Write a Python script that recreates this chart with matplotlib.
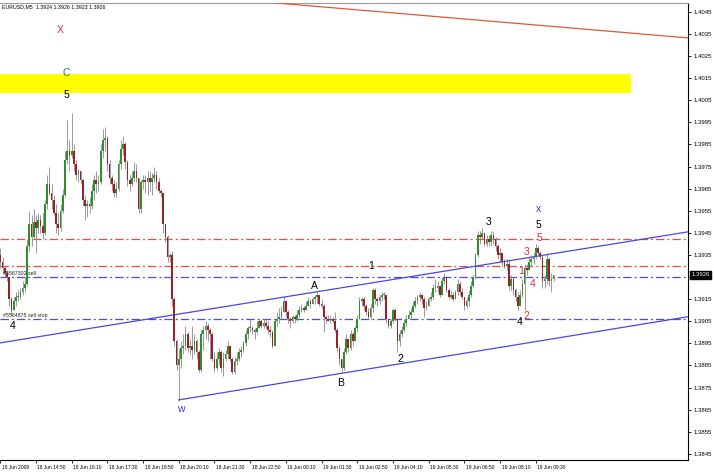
import matplotlib
matplotlib.use('Agg')
import matplotlib.pyplot as plt
from matplotlib.patches import Rectangle
import matplotlib.transforms as mtransforms
import numpy as np

plt.rcParams['font.family'] = ['DejaVu Sans']
plt.rcParams['lines.scale_dashes'] = False

# ---------------- data ----------------
title_text = "EURUSD,M5  1.3924 1.3926 1.3923 1.3926"
last_price = 1.3926

opens = [
    1.3935, 1.3932, 1.3929, 1.3927, 1.3925, 1.3915, 1.3910, 1.3914, 1.3916, 1.3916, 1.3918, 1.3920, 1.3922, 1.3939, 1.3949, 1.3943,
    1.3950, 1.3947, 1.3951, 1.3948, 1.3945, 1.3958, 1.3967, 1.3963, 1.3960, 1.3954, 1.3949, 1.3947, 1.3955, 1.3962, 1.3978, 1.3982,
    1.3980, 1.3982, 1.3976, 1.3971, 1.3973, 1.3969, 1.3960, 1.3957, 1.3958, 1.3957, 1.3964, 1.3969, 1.3967, 1.3968, 1.3982, 1.3987,
    1.3988, 1.3976, 1.3970, 1.3967, 1.3963, 1.3965, 1.3976, 1.3983, 1.3985, 1.3977, 1.3969, 1.3967, 1.3970, 1.3973, 1.3970, 1.3956,
    1.3968, 1.3969, 1.3968, 1.3970, 1.3968, 1.3970, 1.3971, 1.3968, 1.3964, 1.3963, 1.3949, 1.3943, 1.3934, 1.3935, 1.3915, 1.3896,
    1.3885, 1.3888, 1.3893, 1.3894, 1.3899, 1.3893, 1.3894, 1.3892, 1.3896, 1.3891, 1.3883, 1.3899, 1.3901, 1.3903, 1.3901, 1.3899,
    1.3888, 1.3884, 1.3888, 1.3891, 1.3884, 1.3888, 1.3890, 1.3894, 1.3888, 1.3882, 1.3887, 1.3888, 1.3891, 1.3892, 1.3895, 1.3899,
    1.3902, 1.3902, 1.3901, 1.3900, 1.3902, 1.3905, 1.3903, 1.3904, 1.3903, 1.3901, 1.3900, 1.3894, 1.3905, 1.3906, 1.3907, 1.3909,
    1.3914, 1.3909, 1.3906, 1.3905, 1.3907, 1.3906, 1.3908, 1.3910, 1.3911, 1.3910, 1.3912, 1.3914, 1.3913, 1.3915, 1.3916, 1.3917,
    1.3913, 1.3912, 1.3907, 1.3906, 1.3905, 1.3906, 1.3905, 1.3901, 1.3893, 1.3888, 1.3884, 1.3891, 1.3897, 1.3893, 1.3899, 1.3896,
    1.3902, 1.3906, 1.3914, 1.3915, 1.3912, 1.3909, 1.3907, 1.3911, 1.3919, 1.3915, 1.3914, 1.3916, 1.3917, 1.3917, 1.3906, 1.3903,
    1.3905, 1.3910, 1.3906, 1.3896, 1.3899, 1.3901, 1.3904, 1.3906, 1.3908, 1.3909, 1.3912, 1.3914, 1.3916, 1.3917, 1.3915, 1.3911,
    1.3912, 1.3915, 1.3916, 1.3920, 1.3920, 1.3921, 1.3917, 1.3923, 1.3925, 1.3919, 1.3916, 1.3917, 1.3915, 1.3918, 1.3922, 1.3918,
    1.3916, 1.3912, 1.3914, 1.3917, 1.3921, 1.3925, 1.3935, 1.3944, 1.3943, 1.3945, 1.3940, 1.3942, 1.3941, 1.3944, 1.3942, 1.3939,
    1.3935, 1.3936, 1.3932, 1.3930, 1.3931, 1.3921, 1.3924, 1.3919, 1.3916, 1.3912, 1.3917, 1.3922, 1.3929, 1.3928, 1.3932, 1.3933,
    1.3934, 1.3938, 1.3936, 1.3934, 1.3923, 1.3924, 1.3933, 1.3923, 1.3924,
]
highs = [
    1.3938, 1.3934, 1.3930, 1.3928, 1.3925, 1.3916, 1.3916, 1.3918, 1.3919, 1.3920, 1.3923, 1.3925, 1.3942, 1.3955, 1.3953, 1.3956,
    1.3953, 1.3954, 1.3953, 1.3954, 1.3960, 1.3971, 1.3975, 1.3967, 1.3962, 1.3958, 1.3954, 1.3958, 1.3965, 1.3982, 1.3996, 1.3987,
    1.3999, 1.3985, 1.3978, 1.3974, 1.3973, 1.3970, 1.3962, 1.3960, 1.3961, 1.3967, 1.3971, 1.3973, 1.3971, 1.3985, 1.3992, 1.3993,
    1.3989, 1.3978, 1.3971, 1.3969, 1.3968, 1.3978, 1.3987, 1.3989, 1.3986, 1.3978, 1.3971, 1.3973, 1.3977, 1.3976, 1.3970, 1.3969,
    1.3971, 1.3971, 1.3973, 1.3973, 1.3972, 1.3975, 1.3973, 1.3970, 1.3965, 1.3963, 1.3949, 1.3944, 1.3936, 1.3937, 1.3916, 1.3897,
    1.3893, 1.3896, 1.3899, 1.3903, 1.3900, 1.3897, 1.3903, 1.3899, 1.3897, 1.3892, 1.3901, 1.3903, 1.3905, 1.3904, 1.3902, 1.3900,
    1.3891, 1.3891, 1.3893, 1.3892, 1.3891, 1.3892, 1.3896, 1.3894, 1.3889, 1.3889, 1.3891, 1.3893, 1.3894, 1.3896, 1.3901, 1.3903,
    1.3906, 1.3903, 1.3902, 1.3905, 1.3906, 1.3906, 1.3906, 1.3906, 1.3905, 1.3903, 1.3901, 1.3906, 1.3909, 1.3911, 1.3912, 1.3916,
    1.3914, 1.3910, 1.3907, 1.3908, 1.3908, 1.3910, 1.3912, 1.3913, 1.3912, 1.3914, 1.3916, 1.3915, 1.3916, 1.3917, 1.3918, 1.3917,
    1.3915, 1.3913, 1.3908, 1.3908, 1.3908, 1.3907, 1.3909, 1.3902, 1.3894, 1.3888, 1.3893, 1.3899, 1.3897, 1.3901, 1.3900, 1.3903,
    1.3908, 1.3916, 1.3916, 1.3916, 1.3913, 1.3911, 1.3913, 1.3920, 1.3920, 1.3916, 1.3917, 1.3918, 1.3918, 1.3917, 1.3906, 1.3906,
    1.3911, 1.3911, 1.3906, 1.3901, 1.3903, 1.3906, 1.3908, 1.3910, 1.3911, 1.3914, 1.3916, 1.3917, 1.3918, 1.3917, 1.3916, 1.3914,
    1.3916, 1.3918, 1.3922, 1.3924, 1.3923, 1.3921, 1.3925, 1.3927, 1.3925, 1.3920, 1.3919, 1.3918, 1.3919, 1.3924, 1.3923, 1.3920,
    1.3916, 1.3916, 1.3919, 1.3923, 1.3926, 1.3936, 1.3946, 1.3946, 1.3947, 1.3945, 1.3944, 1.3944, 1.3946, 1.3946, 1.3943, 1.3940,
    1.3938, 1.3936, 1.3933, 1.3933, 1.3933, 1.3926, 1.3925, 1.3920, 1.3918, 1.3919, 1.3924, 1.3931, 1.3931, 1.3934, 1.3935, 1.3936,
    1.3940, 1.3939, 1.3937, 1.3935, 1.3926, 1.3936, 1.3934, 1.3927, 1.3926,
]
lows = [
    1.3929, 1.3927, 1.3925, 1.3923, 1.3912, 1.3908, 1.3910, 1.3912, 1.3914, 1.3915, 1.3917, 1.3918, 1.3921, 1.3937, 1.3939, 1.3942,
    1.3936, 1.3945, 1.3945, 1.3942, 1.3944, 1.3956, 1.3962, 1.3956, 1.3953, 1.3945, 1.3944, 1.3946, 1.3954, 1.3961, 1.3976, 1.3973,
    1.3979, 1.3973, 1.3969, 1.3968, 1.3967, 1.3957, 1.3951, 1.3952, 1.3954, 1.3956, 1.3960, 1.3963, 1.3964, 1.3967, 1.3979, 1.3982,
    1.3973, 1.3967, 1.3964, 1.3961, 1.3961, 1.3964, 1.3974, 1.3980, 1.3974, 1.3966, 1.3964, 1.3966, 1.3968, 1.3968, 1.3954, 1.3954,
    1.3965, 1.3963, 1.3962, 1.3964, 1.3962, 1.3968, 1.3965, 1.3963, 1.3961, 1.3945, 1.3941, 1.3932, 1.3932, 1.3912, 1.3894, 1.3883,
    1.3869, 1.3884, 1.3890, 1.3892, 1.3891, 1.3890, 1.3888, 1.3890, 1.3888, 1.3882, 1.3882, 1.3892, 1.3897, 1.3896, 1.3888, 1.3887,
    1.3882, 1.3883, 1.3885, 1.3882, 1.3880, 1.3887, 1.3888, 1.3887, 1.3881, 1.3881, 1.3885, 1.3887, 1.3889, 1.3891, 1.3894, 1.3897,
    1.3900, 1.3899, 1.3897, 1.3899, 1.3902, 1.3902, 1.3902, 1.3902, 1.3899, 1.3898, 1.3893, 1.3894, 1.3903, 1.3904, 1.3906, 1.3909,
    1.3907, 1.3904, 1.3902, 1.3904, 1.3904, 1.3905, 1.3907, 1.3909, 1.3909, 1.3910, 1.3912, 1.3911, 1.3913, 1.3913, 1.3913, 1.3912,
    1.3911, 1.3900, 1.3904, 1.3905, 1.3904, 1.3904, 1.3900, 1.3891, 1.3885, 1.3882, 1.3883, 1.3890, 1.3891, 1.3892, 1.3894, 1.3896,
    1.3900, 1.3906, 1.3912, 1.3910, 1.3908, 1.3906, 1.3906, 1.3909, 1.3913, 1.3912, 1.3913, 1.3914, 1.3915, 1.3904, 1.3902, 1.3902,
    1.3904, 1.3905, 1.3891, 1.3894, 1.3898, 1.3900, 1.3903, 1.3906, 1.3906, 1.3909, 1.3911, 1.3913, 1.3914, 1.3913, 1.3907, 1.3910,
    1.3912, 1.3914, 1.3915, 1.3918, 1.3918, 1.3916, 1.3917, 1.3922, 1.3918, 1.3915, 1.3915, 1.3914, 1.3915, 1.3917, 1.3917, 1.3915,
    1.3910, 1.3911, 1.3912, 1.3916, 1.3920, 1.3924, 1.3934, 1.3940, 1.3942, 1.3939, 1.3939, 1.3939, 1.3939, 1.3940, 1.3937, 1.3933,
    1.3932, 1.3930, 1.3929, 1.3928, 1.3919, 1.3919, 1.3917, 1.3914, 1.3910, 1.3912, 1.3916, 1.3910, 1.3926, 1.3928, 1.3930, 1.3931,
    1.3933, 1.3935, 1.3933, 1.3920, 1.3920, 1.3922, 1.3921, 1.3918, 1.3923,
]
closes = [
    1.3932, 1.3929, 1.3927, 1.3925, 1.3915, 1.3910, 1.3914, 1.3916, 1.3916, 1.3918, 1.3920, 1.3922, 1.3939, 1.3949, 1.3943, 1.3950,
    1.3947, 1.3951, 1.3948, 1.3945, 1.3958, 1.3967, 1.3963, 1.3960, 1.3954, 1.3949, 1.3947, 1.3955, 1.3962, 1.3978, 1.3982, 1.3980,
    1.3982, 1.3976, 1.3971, 1.3973, 1.3969, 1.3960, 1.3957, 1.3958, 1.3957, 1.3964, 1.3969, 1.3967, 1.3968, 1.3982, 1.3987, 1.3988,
    1.3976, 1.3970, 1.3967, 1.3963, 1.3965, 1.3976, 1.3983, 1.3985, 1.3977, 1.3969, 1.3967, 1.3970, 1.3973, 1.3970, 1.3956, 1.3968,
    1.3969, 1.3968, 1.3970, 1.3968, 1.3970, 1.3971, 1.3968, 1.3964, 1.3963, 1.3949, 1.3943, 1.3934, 1.3935, 1.3915, 1.3896, 1.3885,
    1.3888, 1.3893, 1.3894, 1.3899, 1.3893, 1.3894, 1.3892, 1.3896, 1.3891, 1.3883, 1.3899, 1.3901, 1.3903, 1.3901, 1.3899, 1.3888,
    1.3884, 1.3888, 1.3891, 1.3884, 1.3888, 1.3890, 1.3894, 1.3888, 1.3882, 1.3887, 1.3888, 1.3891, 1.3892, 1.3895, 1.3899, 1.3902,
    1.3902, 1.3901, 1.3900, 1.3902, 1.3905, 1.3903, 1.3904, 1.3903, 1.3901, 1.3900, 1.3894, 1.3905, 1.3906, 1.3907, 1.3909, 1.3914,
    1.3909, 1.3906, 1.3905, 1.3907, 1.3906, 1.3908, 1.3910, 1.3911, 1.3910, 1.3912, 1.3914, 1.3913, 1.3915, 1.3916, 1.3917, 1.3913,
    1.3912, 1.3907, 1.3906, 1.3905, 1.3906, 1.3905, 1.3901, 1.3893, 1.3888, 1.3884, 1.3891, 1.3897, 1.3893, 1.3899, 1.3896, 1.3902,
    1.3906, 1.3914, 1.3915, 1.3912, 1.3909, 1.3907, 1.3911, 1.3919, 1.3915, 1.3914, 1.3916, 1.3917, 1.3917, 1.3906, 1.3903, 1.3905,
    1.3910, 1.3906, 1.3896, 1.3899, 1.3901, 1.3904, 1.3906, 1.3908, 1.3909, 1.3912, 1.3914, 1.3916, 1.3917, 1.3915, 1.3911, 1.3912,
    1.3915, 1.3916, 1.3920, 1.3920, 1.3921, 1.3917, 1.3923, 1.3925, 1.3919, 1.3916, 1.3917, 1.3915, 1.3918, 1.3922, 1.3918, 1.3916,
    1.3912, 1.3914, 1.3917, 1.3921, 1.3925, 1.3935, 1.3944, 1.3943, 1.3945, 1.3940, 1.3942, 1.3941, 1.3944, 1.3942, 1.3939, 1.3935,
    1.3936, 1.3932, 1.3930, 1.3931, 1.3921, 1.3924, 1.3919, 1.3916, 1.3912, 1.3917, 1.3922, 1.3929, 1.3928, 1.3932, 1.3933, 1.3934,
    1.3938, 1.3936, 1.3934, 1.3923, 1.3924, 1.3933, 1.3923, 1.3924, 1.3926,
]

time_labels = ["18 Jun 2009", "18 Jun 14:50", "18 Jun 16:10", "18 Jun 17:30", "18 Jun 18:50",
               "18 Jun 20:10", "18 Jun 21:30", "18 Jun 22:50", "19 Jun 00:10", "19 Jun 01:30",
               "19 Jun 02:50", "19 Jun 04:10", "19 Jun 05:30", "19 Jun 06:50", "19 Jun 08:10",
               "19 Jun 09:30"]
time_label_bars = [0, 16, 32, 48, 64, 80, 96, 112, 128, 144, 160, 176, 192, 208, 224, 240]

price_tick_labels = ["1.3845", "1.3855", "1.3865", "1.3875", "1.3885", "1.3895", "1.3905",
                     "1.3915", "1.3925", "1.3935", "1.3945", "1.3955", "1.3965", "1.3975",
                     "1.3985", "1.3995", "1.4005", "1.4015", "1.4025", "1.4035", "1.4045"]

# horizontal order / level lines
red_levels = [1.3942, 1.3930]
blue_levels = [1.3925, 1.3906]
order_texts = ["#5567302 sell", "#5564875 sell stop"]

# trend lines (bar index, price)
channel_upper = [(0, 1.38952), (308, 1.39454)]
channel_lower = [(80, 1.38694), (308, 1.39070)]
red_trend = [(107.4, 1.40504), (308.2, 1.40332)]

# yellow zone (bar range, price range)
zone_bars = (-10, 282.6)
zone_prices = (1.40083, 1.40169)

# wave labels: (text, bar, price, color)
wave_labels = [
    ("X", 26.8, 1.40368, "#d9343f"),
    ("C", 29.6, 1.40174, "#2e7d4f"),
    ("5", 29.6, 1.40074, "black"),
    ("4", 5.4, 1.39029, "black"),
    ("w", 80.7, 1.38652, "#3a3ad0"),
    ("A", 140.7, 1.39210, "black"),
    ("1", 166.3, 1.39300, "black"),
    ("B", 152.4, 1.38771, "black"),
    ("2", 179.3, 1.38880, "black"),
    ("3", 218.7, 1.39499, "black"),
    ("x", 241.1, 1.39558, "#3a3ad0"),
    ("5", 241.1, 1.39486, "black"),
    ("5", 241.6, 1.39427, "#e03030"),
    ("3", 235.8, 1.39364, "#e03030"),
    ("1", 233.5, 1.39278, "#e03030"),
    ("4", 238.5, 1.39219, "#e03030"),
    ("2", 235.8, 1.39074, "#e03030"),
    ("4", 232.6, 1.39047, "black"),
]

# ---------------- figure ----------------
W, H = 714, 474
fig = plt.figure(figsize=(W / 100, H / 100), dpi=100)
fig.patch.set_facecolor('white')
ax = fig.add_axes([0, 14 / H, 688 / W, 457 / H])
ax.set_facecolor('white')
ax.set_xlim(-0.13, 308.25)
ax.set_ylim(1.38422, 1.40490)

o = np.array(opens); h = np.array(highs); l = np.array(lows); c = np.array(closes)
x = np.arange(len(c))

# yellow zone
ax.add_patch(Rectangle((zone_bars[0], zone_prices[0]), zone_bars[1] - zone_bars[0],
                       zone_prices[1] - zone_prices[0], facecolor='#ffff00',
                       edgecolor='none', zorder=1))

dash = (0, (6, 2.2, 1.4, 2.2))
for lv in red_levels:
    ax.axhline(lv, color='#ee4a44', lw=0.9, ls=dash, zorder=2)
for lv in blue_levels:
    ax.axhline(lv, color='#4a4aee', lw=0.9, ls=dash, zorder=2)
for lv, t in zip(blue_levels, order_texts):
    ax.text(1.0, lv + 0.00003, t, fontsize=3.8, color='#222222', va='bottom', ha='left',
            family='Liberation Sans', zorder=6)

# candles
top = np.maximum(np.maximum(o, c), h)
bot = np.minimum(np.minimum(o, c), l)
ax.vlines(x, bot, top, color='#8a8a8a', lw=0.6, zorder=3)
body_b = np.minimum(o, c)
body_h = np.maximum(np.abs(c - o), 0.00003)
cols = np.where(c >= o, '#2f8f2f', '#9a1f28')
ax.bar(x, body_h, bottom=body_b, width=0.75, color=cols, linewidth=0, zorder=4)

# trend lines
ax.axline(channel_upper[0], channel_upper[1], color='#4848e6', lw=0.9, zorder=5)
(x0, y0), (x1, y1) = channel_lower
slope = (y1 - y0) / (x1 - x0)
xe = 320
ax.plot([x0, xe], [y0, y0 + slope * (xe - x0)], color='#4848e6', lw=0.9, zorder=5)
ax.axline(red_trend[0], red_trend[1], color='#e2553f', lw=0.9, zorder=5)

# wave labels
for t, bx, py, col in wave_labels:
    ax.text(bx, py, t, fontsize=7.5, color=col, ha='center', va='center',
            family='Liberation Sans', zorder=7)

# title
ax.text(0.003, 0.997, title_text, transform=ax.transAxes, fontsize=3.8,
        va='top', ha='left', color='black', family='Liberation Sans', zorder=8)

# axes styling
ax.yaxis.tick_right()
ticks = [float(s) for s in price_tick_labels]
shown = ["" if abs(float(s) - last_price) < 0.0003 else s for s in price_tick_labels]
ax.set_yticks(ticks)
ax.set_yticklabels(shown, fontsize=4.3, family='Liberation Sans')
ax.set_xticks(time_label_bars)
ax.set_xticklabels(time_labels, fontsize=3.5, ha='left', family='Liberation Sans')
ax.tick_params(axis='y', length=2.5, width=0.6, pad=1.5, direction='out', colors='black')
ax.tick_params(axis='x', length=2.5, width=0.6, pad=1.2, direction='out', colors='black')
offset = mtransforms.ScaledTranslation(1.5 / 100, 0, fig.dpi_scale_trans)
for lbl in ax.get_xticklabels():
    lbl.set_transform(lbl.get_transform() + offset)

ax.spines['left'].set_visible(False)
ax.spines['top'].set_color('#9a9a9a')
ax.spines['top'].set_linewidth(0.8)
ax.spines['right'].set_color('black')
ax.spines['right'].set_linewidth(0.8)
ax.spines['bottom'].set_color('black')
ax.spines['bottom'].set_linewidth(0.8)

# current price marker
trans = mtransforms.blended_transform_factory(ax.transAxes, ax.transData)
ax.text(1.005, last_price, f"{last_price:.4f}", transform=trans, fontsize=4.3,
        color='white', va='center', ha='left', zorder=9, clip_on=False,
        family='Liberation Sans',
        bbox=dict(boxstyle='square,pad=0.2', facecolor='black', edgecolor='black'))

fig.savefig('out.png', dpi=100, facecolor='white')
